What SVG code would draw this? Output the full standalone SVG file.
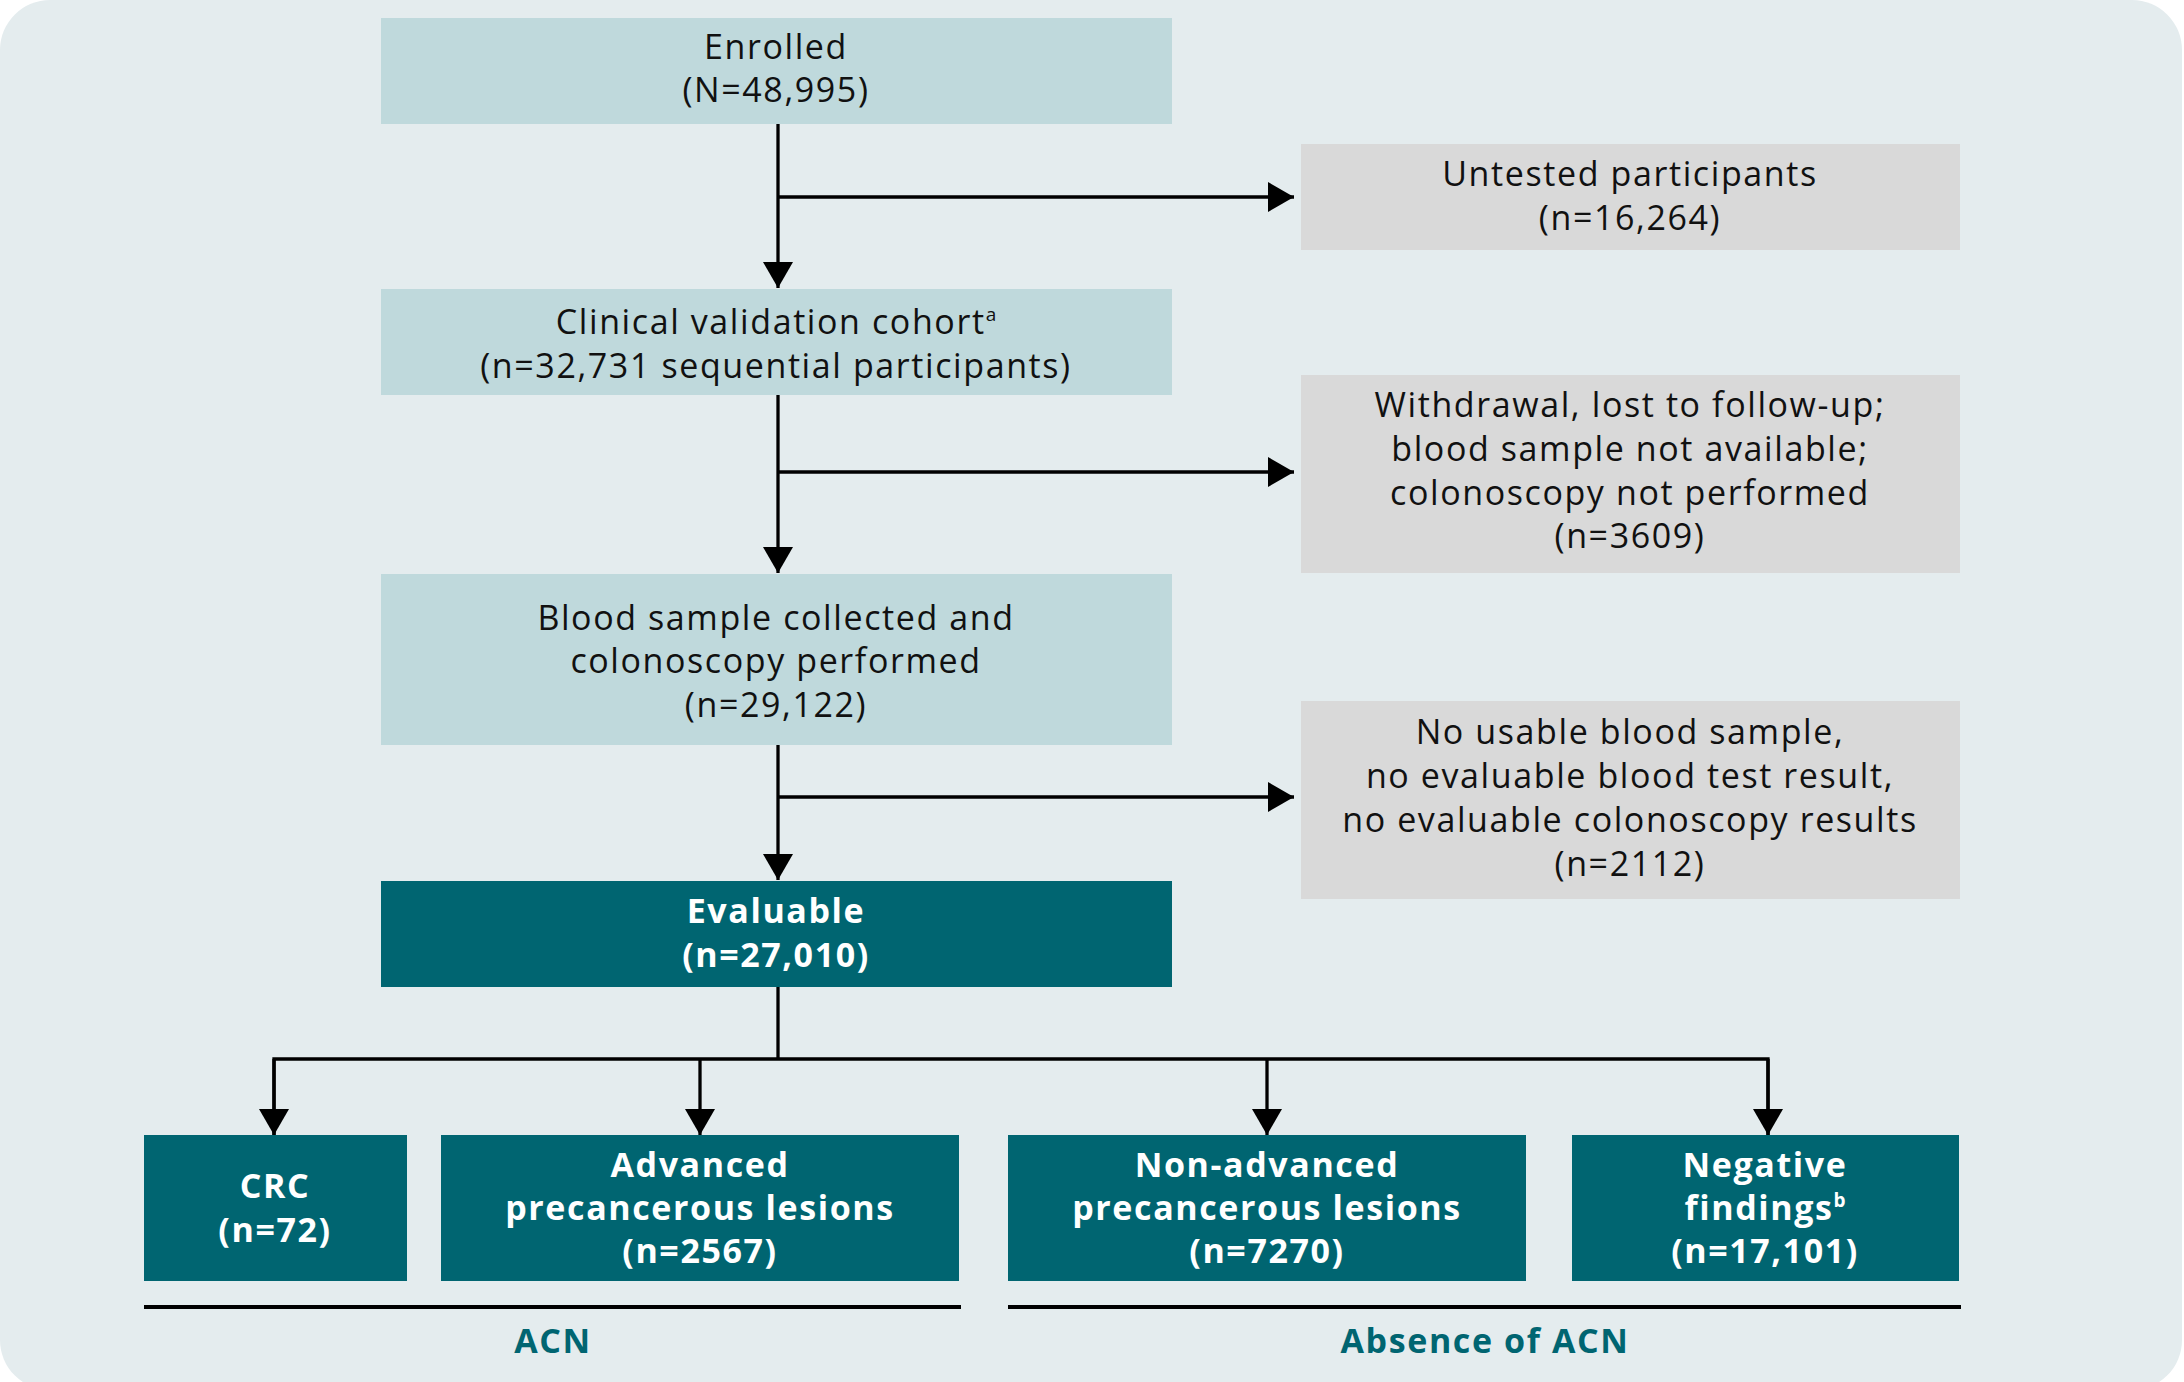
<svg xmlns="http://www.w3.org/2000/svg" width="2184" height="1382" viewBox="0 0 2184 1382">
  <defs>
    <marker id="arrow" viewBox="0 0 26 30" refX="26" refY="15" markerWidth="26" markerHeight="30" markerUnits="userSpaceOnUse" orient="auto">
      <path d="M0,0 L26,15 L0,30 Z" fill="#000"/>
    </marker>
    <style>
      .panel { fill: #E4ECEE; }
      .step { fill: #BFD9DC; }
      .excl { fill: #D9D9D9; }
      .result { fill: #006571; }
      text { font-family: "Open Sans", "Noto Sans", "DejaVu Sans", sans-serif; font-size: 34px; letter-spacing: 1.6px; text-anchor: middle; }
      .dark { fill: #111; }
      .light { fill: #fff; font-weight: 700; }
      .group { fill: #006571; font-weight: 700; }
      .sup { font-size: 19px; letter-spacing: 0; }
      .link { fill: none; stroke: #000; stroke-width: 3.3; }
      .arrowed { marker-end: url(#arrow); }
      .rule { stroke: #000; stroke-width: 4; }
    </style>
  </defs>

  <rect x="0" y="0" width="2184" height="1382" fill="#fff"/>
  <rect class="panel" x="0" y="0" width="2182" height="1390" rx="50" ry="50"/>

  <!-- flow connectors -->
  <g id="connectors">
    <line class="link arrowed" x1="778" y1="124" x2="778" y2="288"/>
    <line class="link arrowed" x1="778" y1="197" x2="1294" y2="197"/>
    <line class="link arrowed" x1="778" y1="395" x2="778" y2="573"/>
    <line class="link arrowed" x1="778" y1="472" x2="1294" y2="472"/>
    <line class="link arrowed" x1="778" y1="745" x2="778" y2="880"/>
    <line class="link arrowed" x1="778" y1="797" x2="1294" y2="797"/>
    <line class="link" x1="778" y1="987" x2="778" y2="1059"/>
    <polyline class="link" points="274,1135 274,1059 1768,1059 1768,1135"/>
    <line class="link arrowed" x1="274" y1="1059" x2="274" y2="1135"/>
    <line class="link arrowed" x1="700" y1="1059" x2="700" y2="1135"/>
    <line class="link arrowed" x1="1267" y1="1059" x2="1267" y2="1135"/>
    <line class="link arrowed" x1="1768" y1="1059" x2="1768" y2="1135"/>
  </g>

  <g id="enrolled">
    <rect class="step" x="381" y="18" width="791" height="106"/>
    <text class="dark" x="776" y="59">Enrolled</text>
    <text class="dark" x="776" y="102">(N=48,995)</text>
  </g>

  <g id="untested">
    <rect class="excl" x="1301" y="144" width="659" height="106"/>
    <text class="dark" x="1630" y="186">Untested participants</text>
    <text class="dark" x="1630" y="230">(n=16,264)</text>
  </g>

  <g id="cohort">
    <rect class="step" x="381" y="289" width="791" height="106"/>
    <text class="dark" x="776" y="334">Clinical validation cohort<tspan class="sup" dy="-13">a</tspan></text>
    <text class="dark" x="776" y="378">(n=32,731 sequential participants)</text>
  </g>

  <g id="withdrawn">
    <rect class="excl" x="1301" y="375" width="659" height="198"/>
    <text class="dark" x="1630" y="417">Withdrawal, lost to follow-up;</text>
    <text class="dark" x="1630" y="461">blood sample not available;</text>
    <text class="dark" x="1630" y="505">colonoscopy not performed</text>
    <text class="dark" x="1630" y="548">(n=3609)</text>
  </g>

  <g id="collected">
    <rect class="step" x="381" y="574" width="791" height="171"/>
    <text class="dark" x="776" y="630">Blood sample collected and</text>
    <text class="dark" x="776" y="673">colonoscopy performed</text>
    <text class="dark" x="776" y="717">(n=29,122)</text>
  </g>

  <g id="not-evaluable">
    <rect class="excl" x="1301" y="701" width="659" height="198"/>
    <text class="dark" x="1630" y="744">No usable blood sample,</text>
    <text class="dark" x="1630" y="788">no evaluable blood test result,</text>
    <text class="dark" x="1630" y="832">no evaluable colonoscopy results</text>
    <text class="dark" x="1630" y="876">(n=2112)</text>
  </g>

  <g id="evaluable">
    <rect class="result" x="381" y="881" width="791" height="106"/>
    <text class="light" x="776" y="923">Evaluable</text>
    <text class="light" x="776" y="967">(n=27,010)</text>
  </g>

  <g id="crc">
    <rect class="result" x="144" y="1135" width="263" height="146"/>
    <text class="light" x="275" y="1198">CRC</text>
    <text class="light" x="275" y="1242">(n=72)</text>
  </g>

  <g id="advanced">
    <rect class="result" x="441" y="1135" width="518" height="146"/>
    <text class="light" x="700" y="1177">Advanced</text>
    <text class="light" x="700" y="1220">precancerous lesions</text>
    <text class="light" x="700" y="1263">(n=2567)</text>
  </g>

  <g id="non-advanced">
    <rect class="result" x="1008" y="1135" width="518" height="146"/>
    <text class="light" x="1267" y="1177">Non-advanced</text>
    <text class="light" x="1267" y="1220">precancerous lesions</text>
    <text class="light" x="1267" y="1263">(n=7270)</text>
  </g>

  <g id="negative">
    <rect class="result" x="1572" y="1135" width="387" height="146"/>
    <text class="light" x="1765" y="1177">Negative</text>
    <text class="light" x="1765" y="1220">findings<tspan class="sup" dy="-13">b</tspan></text>
    <text class="light" x="1765" y="1263">(n=17,101)</text>
  </g>

  <!-- outcome groupings -->
  <g id="acn">
    <line class="rule" x1="144" y1="1307" x2="961" y2="1307"/>
    <text class="group" x="553" y="1353">ACN</text>
  </g>
  <g id="no-acn">
    <line class="rule" x1="1008" y1="1307" x2="1961" y2="1307"/>
    <text class="group" x="1485" y="1353">Absence of ACN</text>
  </g>
</svg>
